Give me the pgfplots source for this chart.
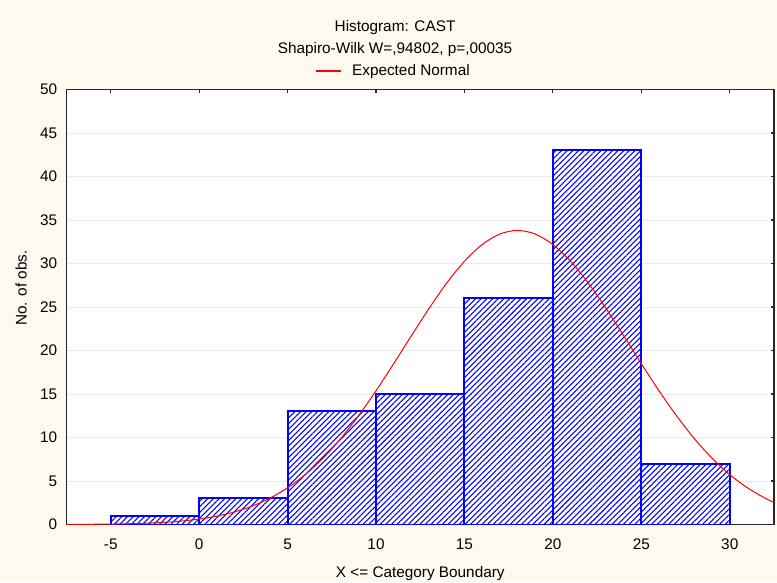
\documentclass[border=0pt]{standalone}
\usepackage{fontspec}
\setmainfont{Liberation Sans}
\usepackage{pgfplots}
\pgfplotsset{compat=1.18}
\usetikzlibrary{patterns.meta}
\definecolor{paper}{RGB}{253,249,239}
\definecolor{barblue}{RGB}{0,0,255}
\definecolor{framec}{RGB}{40,40,40}

% Observed counts per class (upper bound of class, count)
\pgfplotstableread{
x   n
-5  1
0   3
5   13
10  15
15  26
20  43
25  7
30  7
}\histdata

% Expected normal counts
\pgfplotstableread{
x     y
-7.5  0.011
-6    0.028
-5    0.050
-4    0.087
-3    0.148
-2    0.245
-1    0.396
0     0.625
1     0.962
2     1.445
3     2.116
4     3.024
5     4.218
6     5.740
7     7.618
8     9.864
9     12.47
10    15.37
11    18.49
12    21.70
13    24.84
14    27.76
15    30.25
16    32.17
17    33.39
18    33.80
19    33.39
20    32.17
21    30.25
22    27.76
23    24.84
24    21.70
25    18.49
26    15.37
27    12.47
28    9.864
29    7.618
30    5.740
31    4.218
32    3.024
32.5  2.54
}\normaldata

\begin{document}
\begin{tikzpicture}[font=\fontsize{11.5pt}{13.8pt}\selectfont]
\path[use as bounding box, fill=paper] (-49.875pt,-43.125pt) rectangle (532.875pt,393.375pt);
\begin{axis}[
  at={(0,0)}, anchor=south west,
  scale only axis, width=530.6pt, height=326.25pt,
  xmin=-7.5, xmax=32.5, ymin=0, ymax=50,
  xtick={-5,0,...,30}, ytick={0,5,...,50},
  tick align=inside, major tick length=2.5pt,
  xtick pos=upper, ytick pos=right,
  xticklabel pos=lower, yticklabel pos=left,
  tick style={framec, line width=0.8pt},
  axis line style={framec, line width=1pt},
  axis background/.style={fill=white},
  ymajorgrids,
  grid style={gray!30, line width=0.5pt, dash pattern=on 0.6pt off 0.9pt},
  /pgf/number format/assume math mode=true,
  tick label style={font=\fontsize{11.5pt}{13.8pt}\selectfont},
  xticklabel style={yshift=-7.5pt},
  yticklabel style={xshift=-3.5pt},
  legend style={at={(0.4628,1.0425)}, anchor=center, draw=none, fill=none,
    font=\fontsize{11.5pt}{13.8pt}\selectfont},
  legend image code/.code={%
    \path[draw=none, fill=none] (0pt,0pt) -- (25pt,0pt);
    \draw[#1, line width=1pt] (0pt,0pt) -- (18.75pt,0pt);},
  clip=true,
]
\addplot[ybar interval, forget plot, draw=barblue, line width=1.5pt,
  pattern={Lines[angle=45, distance=3pt, line width=0.8pt]}, pattern color=barblue]
  table[x=x, y=n] {\histdata};
\addplot[red, line width=0.75pt, smooth] table[x=x, y=y] {\normaldata};
\addlegendentry{Expected Normal}
\end{axis}
\node at (246.4pt,372.4pt) {Histogram: CAST};
\node at (246.4pt,355.9pt) {Shapiro-Wilk W=,94802, p=,00035};
\node[rotate=90] at (-34.1pt,177.4pt) {No. of obs.};
\node at (265.3pt,-36.6pt) {X <= Category Boundary};
\end{tikzpicture}
\end{document}
